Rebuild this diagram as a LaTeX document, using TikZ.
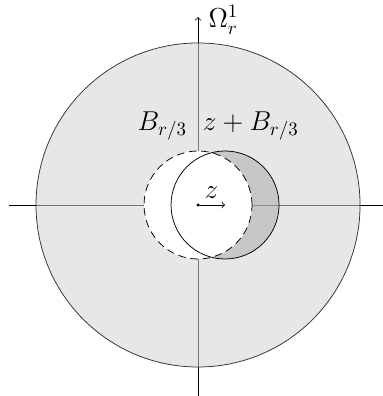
\documentclass[tikz,border=0pt]{standalone}
\usetikzlibrary{positioning}

\begin{document}
\begin{tikzpicture}[auto, font=\Large]
    \useasboundingbox (-3.667,-3.537) rectangle (3.407,3.796);
    \coordinate (O) at (0,0);
    \coordinate (z) at (0.5,0);
    \coordinate (west) at (-3.5,0);
    \coordinate (east) at (3.5,0);
    \coordinate (south) at (0,-3.6);
    \coordinate (north) at (0,3.48);

    % axes
    \draw (west) -- (east);
    \draw[->] (south) -- (north);
    \node (omega) at (0.47,3.43) {$\Omega^1_r$};

    % the domain and the two balls
    \fill[black!17, fill opacity=0.55] (O) circle (3);
    \draw[black!80] (O) circle (3);
    \fill[black!34, fill opacity=0.5] (z) circle (1);
    \fill[white] (O) circle (1);
    \draw[dash pattern=on 4pt off 2.5pt] (O) circle (1);
    \draw (z) circle (1);

    % labels
    \node (ball) at (-0.66,1.46) {$B_{r/3}$};
    \node (shifted) at (0.98,1.46) {$z+B_{r/3}$};

    % the shift
    \fill (O) circle (0.03);
    \draw[->] (O) -- node[above] {$z$} (z);
\end{tikzpicture}
\end{document}
